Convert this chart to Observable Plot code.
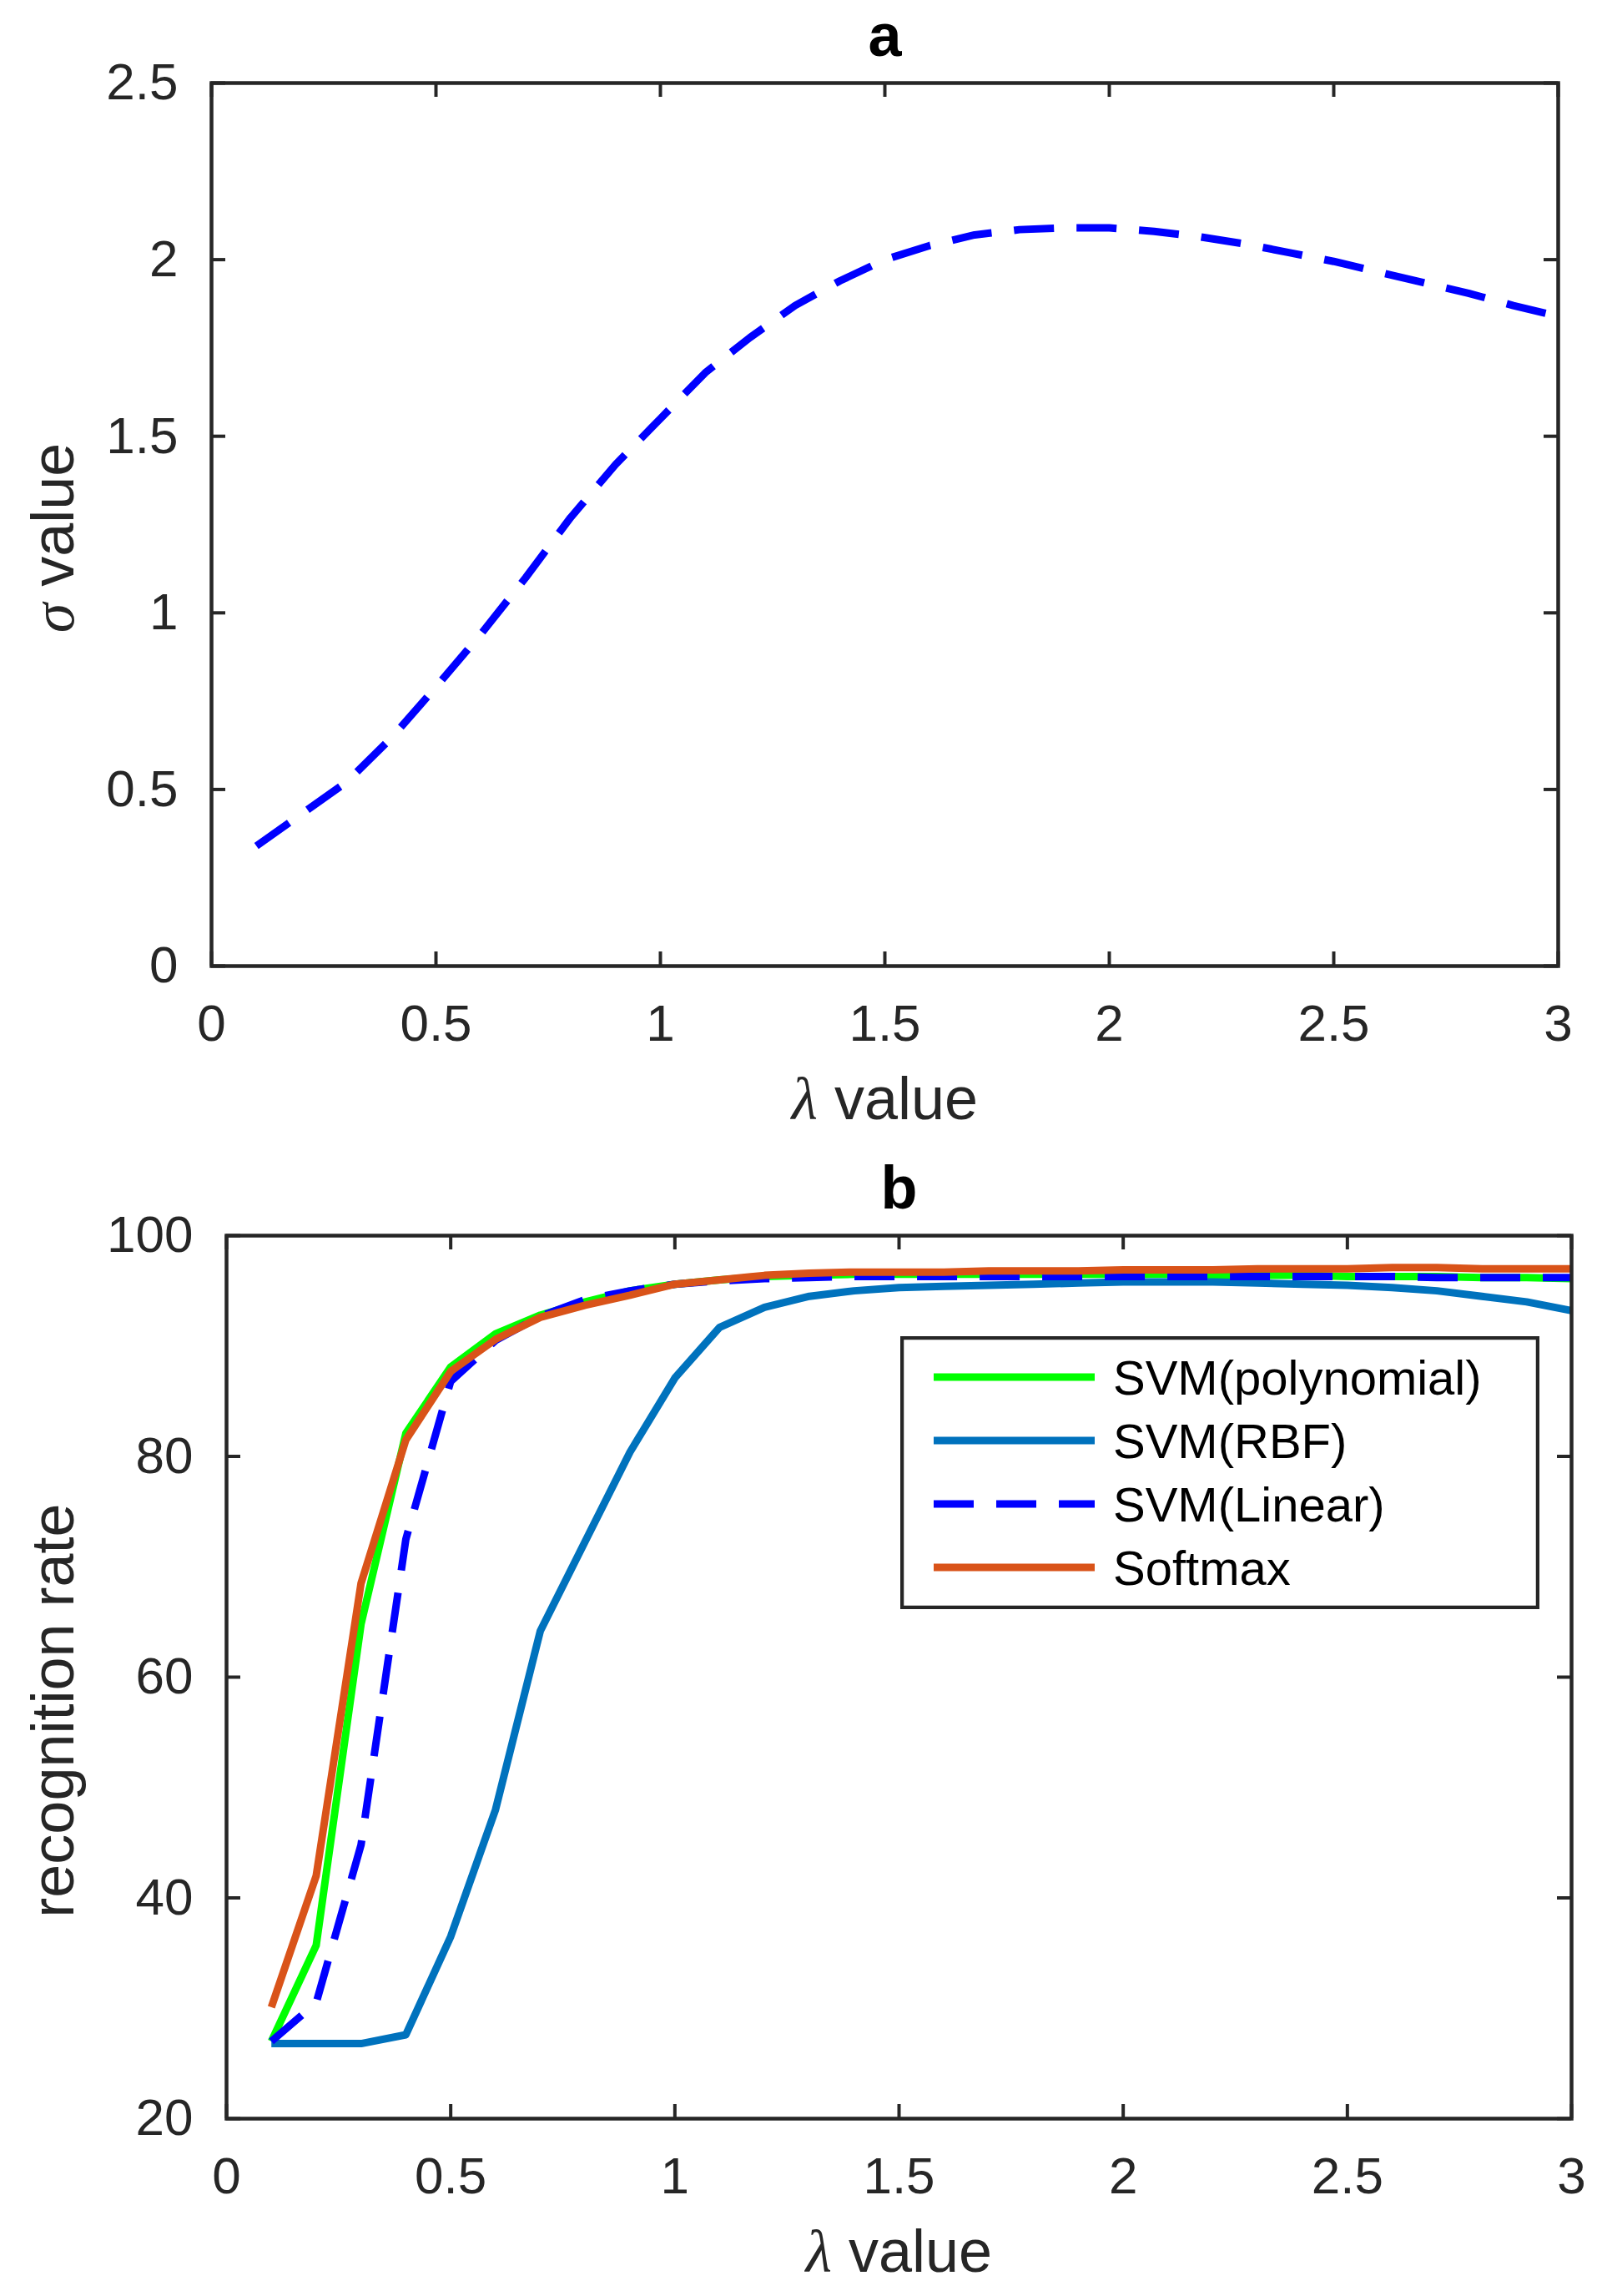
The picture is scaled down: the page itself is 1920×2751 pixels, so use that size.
<!DOCTYPE html>
<html>
<head>
<meta charset="utf-8">
<script src="https://cdn.jsdelivr.net/npm/d3@7"></script>
<script src="https://cdn.jsdelivr.net/npm/@observablehq/plot@0.6"></script>
<style>
  body { margin: 0; background: #fff; }
  #chart { width: 1920px; }
  #chart svg { display: block; }
  .panel { position: relative; }
  .legend { position: absolute; }
</style>
</head>
<body>
<div id="chart"></div>
<script>
// x values (lambda) shared by both panels
const lambda = [0.1, 0.2, 0.3, 0.4, 0.5, 0.6, 0.7, 0.8, 0.9, 1.0,
  1.1, 1.2, 1.3, 1.4, 1.5, 1.6, 1.7, 1.8, 1.9, 2.0,
  2.1, 2.2, 2.3, 2.4, 2.5, 2.6, 2.7, 2.8, 2.9, 3.0];

// panel a: sigma value
const sigma = [0.34, 0.43, 0.52, 0.645, 0.79, 0.94, 1.10, 1.27, 1.42, 1.55,
  1.68, 1.78, 1.87, 1.94, 2.00, 2.04, 2.07, 2.085, 2.09, 2.09,
  2.08, 2.065, 2.045, 2.02, 1.995, 1.965, 1.935, 1.905, 1.87, 1.84];

// panel b: recognition rate
const svmPoly = [27.0, 35.7, 64.8, 82.1, 88.1, 91.1, 92.8, 94.0, 95.0, 95.6,
  96.0, 96.3, 96.4, 96.5, 96.5, 96.5, 96.5, 96.5, 96.5, 96.5,
  96.5, 96.4, 96.4, 96.4, 96.3, 96.3, 96.3, 96.2, 96.2, 96.1];
const svmRbf = [26.8, 26.8, 26.8, 27.6, 36.5, 48.0, 64.2, 72.3, 80.4, 87.1,
  91.7, 93.5, 94.5, 95.0, 95.3, 95.4, 95.5, 95.6, 95.7, 95.8,
  95.8, 95.8, 95.7, 95.6, 95.5, 95.3, 95.0, 94.5, 94.0, 93.2];
const svmLinear = [27.0, 30.5, 44.8, 72.5, 86.8, 90.5, 92.7, 94.2, 95.0, 95.6,
  95.9, 96.1, 96.2, 96.3, 96.3, 96.3, 96.3, 96.3, 96.3, 96.3,
  96.3, 96.3, 96.3, 96.3, 96.3, 96.3, 96.2, 96.2, 96.2, 96.2];
const softmax = [30.1, 42.0, 68.5, 81.5, 87.7, 90.6, 92.6, 93.7, 94.6, 95.6,
  96.0, 96.4, 96.6, 96.7, 96.7, 96.7, 96.8, 96.8, 96.8, 96.9,
  96.9, 96.9, 97.0, 97.0, 97.0, 97.1, 97.1, 97.0, 97.0, 97.0];

const seriesNames = ["SVM(polynomial)", "SVM(RBF)", "SVM(Linear)", "Softmax"];
const seriesValues = [svmPoly, svmRbf, svmLinear, softmax];
const seriesColors = ["#00ff00", "#0072bd", "#0000ff", "#d95319"];
const seriesDash = [null, null, "48,27", null];

const lambdaTicks = [0, 0.5, 1, 1.5, 2, 2.5, 3];
const sigmaTicks = [0, 0.5, 1, 1.5, 2, 2.5];
const rateTicks = [20, 40, 60, 80, 100];

const ink = "#262626";
const W = 1920;
const greek = /^[λσ] /;

// one boxed MATLAB-style panel with inward ticks on all four sides
function panel({height, margin, yDomain, yTicks, title, xLabel, yLabel, yLabelDx, yLabelDy, marks}) {
  const innerW = W - margin.left - margin.right;
  const innerH = height - margin.top - margin.bottom;
  const tk = 17;
  const fmt = (d) => String(d);
  const chart = Plot.plot({
    width: W,
    height,
    marginTop: margin.top,
    marginRight: margin.right,
    marginBottom: margin.bottom,
    marginLeft: margin.left,
    style: {fontFamily: "'Liberation Sans', Arial, sans-serif", fontSize: "62px", color: ink, background: "#fff", overflow: "visible"},
    x: {domain: [0, 3]},
    y: {domain: yDomain},
    marks: [
      ...marks,
      Plot.axisX(lambdaTicks, {tickSize: 0, tickPadding: 45, fontSize: 62, tickFormat: fmt, label: null}),
      Plot.axisY(yTicks, {tickSize: 0, tickPadding: 40, fontSize: 62, tickFormat: fmt, label: null}),
      Plot.tickX(lambdaTicks, {x: (d) => d, insetBottom: innerH - tk, stroke: ink, strokeWidth: 4}),
      Plot.tickX(lambdaTicks, {x: (d) => d, insetTop: innerH - tk, stroke: ink, strokeWidth: 4}),
      Plot.tickY(yTicks, {y: (d) => d, insetRight: innerW - tk, stroke: ink, strokeWidth: 4}),
      Plot.tickY(yTicks, {y: (d) => d, insetLeft: innerW - tk, stroke: ink, strokeWidth: 4}),
      Plot.frame({stroke: ink, strokeWidth: 4.5}),
      Plot.text([title], {frameAnchor: "top", lineAnchor: "bottom", dy: -33, fontSize: 72, fontWeight: "bold", fill: "#000"}),
      Plot.text([xLabel], {frameAnchor: "bottom", lineAnchor: "bottom", dy: 183, fontSize: 72, fill: ink}),
      Plot.text([yLabel], {frameAnchor: "left", textAnchor: "middle", lineAnchor: "bottom", rotate: -90,
        dx: yLabelDx, dy: yLabelDy, fontSize: 72, fill: ink})
    ]
  });
  // greek letters in a TeX-like italic serif
  d3.select(chart).selectAll("text").each(function () {
    const t = this.textContent;
    if ((t === xLabel || t === yLabel) && greek.test(t)) {
      const s = d3.select(this);
      s.text(null);
      s.append("tspan").attr("font-family", "'Liberation Serif', serif").attr("font-style", "italic").text(t[0]);
      s.append("tspan").text(t.slice(1));
    }
  });
  return chart;
}

const root = d3.select("#chart");

// panel a
const chartA = panel({
  height: 1380,
  margin: {top: 99, right: 53, bottom: 223, left: 253},
  yDomain: [0, 2.5],
  yTicks: sigmaTicks,
  title: "a",
  xLabel: "λ value",
  yLabel: "σ value",
  yLabelDx: -166,
  yLabelDy: 16,
  marks: [
    Plot.line(lambda, {x: (d) => d, y: (d, i) => sigma[i], stroke: "#0000ff", strokeWidth: 9,
      strokeDasharray: "48,27", strokeLinecap: "butt", strokeLinejoin: "round"})
  ]
});
root.append("div").attr("class", "panel").append(() => chartA);

// panel b
const chartB = panel({
  height: 1371,
  margin: {top: 100, right: 37, bottom: 213, left: 271},
  yDomain: [20, 100],
  yTicks: rateTicks,
  title: "b",
  xLabel: "λ value",
  yLabel: "recognition rate",
  yLabelDx: -184,
  yLabelDy: 40,
  marks: seriesValues.map((vals, k) =>
    Plot.line(lambda, {x: (d) => d, y: (d, i) => vals[i], stroke: seriesColors[k], strokeWidth: 9,
      strokeDasharray: seriesDash[k], strokeLinecap: "butt", strokeLinejoin: "round"})
  )
});
const panelB = root.append("div").attr("class", "panel");
panelB.append(() => chartB);

// legend box
const lg = panelB.append("svg")
  .attr("class", "legend")
  .attr("width", 766).attr("height", 327)
  .style("left", "1079px").style("top", "221px");
lg.append("rect").attr("x", 2).attr("y", 2).attr("width", 762).attr("height", 323)
  .attr("fill", "#fff").attr("stroke", ink).attr("stroke-width", 4.5);
seriesNames.forEach((name, k) => {
  const y = 49 + k * 76;
  lg.append("line").attr("x1", 40).attr("x2", 233).attr("y1", y).attr("y2", y)
    .attr("stroke", seriesColors[k]).attr("stroke-width", 9)
    .attr("stroke-dasharray", seriesDash[k]);
  lg.append("text").attr("x", 255).attr("y", y + 21)
    .attr("font-family", "'Liberation Sans', Arial, sans-serif").attr("font-size", 58)
    .attr("fill", "#000").text(name);
});
</script>
</body>
</html>
